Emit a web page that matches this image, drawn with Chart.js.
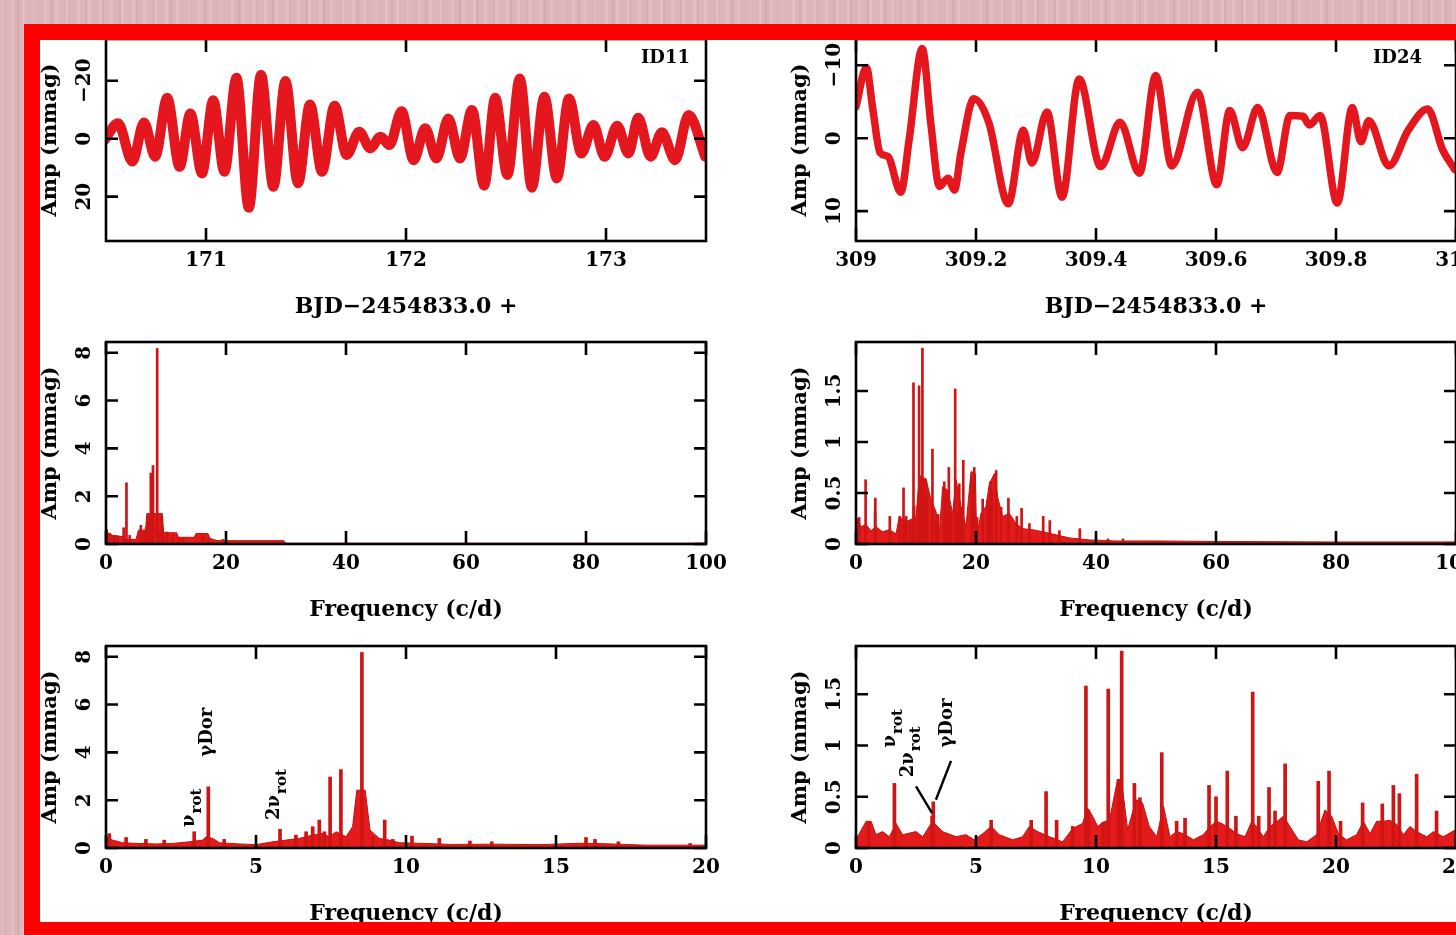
<!DOCTYPE html>
<html>
<head>
<meta charset="utf-8">
<script src="https://cdn.jsdelivr.net/npm/chart.js@4.4.1/dist/chart.umd.min.js"></script>
<style>
    html, body { margin: 0; padding: 0; width: 1456px; height: 935px; overflow: hidden; }
    body {
        position: relative;
        background-color: #ddb4b8;
        background-image:
            repeating-linear-gradient(90deg, rgba(255,255,255,0.14) 0 3px, rgba(255,255,255,0) 3px 11px),
            repeating-linear-gradient(90deg, rgba(140,70,80,0.08) 0 2px, rgba(0,0,0,0) 2px 17px);
    }
    #sheet { position: absolute; left: 24px; top: 24px; width: 1500px; height: 914px; background: #fff; }
    #frame { position: absolute; left: 24px; top: 24px; width: 1500px; height: 914px; box-sizing: border-box;
             border: 16px solid #ff0000; z-index: 5; }
    canvas { position: absolute; z-index: 2; }
</style>
</head>
<body>
<div id="sheet"></div>
<canvas id="lc11" width="720" height="293" style="left:16px;top:33px"></canvas>
<canvas id="lc24" width="720" height="293" style="left:766px;top:33px"></canvas>
<canvas id="wide11" width="720" height="293" style="left:16px;top:336px"></canvas>
<canvas id="wide24" width="720" height="293" style="left:766px;top:336px"></canvas>
<canvas id="zoom11" width="720" height="293" style="left:16px;top:640px"></canvas>
<canvas id="zoom24" width="720" height="293" style="left:766px;top:640px"></canvas>
<div id="frame"></div>
<script>
// Light curve ID11 (peaks and troughs)
const lc11Time = [170.493, 170.560, 170.632, 170.690, 170.746, 170.806, 170.868, 170.922, 170.980, 171.036,
    171.092, 171.152, 171.214, 171.275, 171.337, 171.397, 171.460, 171.520, 171.580, 171.643,
    171.703, 171.766, 171.821, 171.873, 171.917, 171.978, 172.038, 172.096, 172.152, 172.212,
    172.270, 172.330, 172.391, 172.446, 172.507, 172.569, 172.629, 172.692, 172.754, 172.815,
    172.877, 172.937, 172.993, 173.056, 173.112, 173.161, 173.223, 173.279, 173.346, 173.413, 173.496];
const lc11Amp = [0.5, -5.3, 7.9, -5.6, 6.2, -14.1, 9.7, -8.7, 12.0, -13.3,
    11.4, -21.0, 23.8, -22.0, 16.6, -19.9, 15.4, -11.8, 11.4, -11.4,
    5.6, -2.4, 3.3, -0.7, 2.2, -9.5, 7.4, -3.6, 6.8, -7.0,
    6.8, -9.9, 16.2, -14.1, 12.5, -20.8, 16.9, -14.5, 13.7, -13.9,
    5.1, -4.7, 6.2, -4.5, 5.1, -7.2, 6.2, -2.2, 7.4, -8.2, 6.2];

// Light curve ID24
const lc24Time = [309.000, 309.0172, 309.0280, 309.0401, 309.0530, 309.0746, 309.0889, 309.1104, 309.1247, 309.1391,
    309.1534, 309.1642, 309.1749, 309.1964, 309.2215, 309.2538, 309.2789, 309.2932, 309.3183, 309.3434,
    309.3720, 309.4079, 309.4401, 309.4724, 309.4996, 309.5262, 309.5692, 309.6014, 309.6229, 309.6444,
    309.6695, 309.7018, 309.7233, 309.7448, 309.7556, 309.7735, 309.8022, 309.8272, 309.8416, 309.8545,
    309.8882, 309.9204, 309.9527, 309.9778, 309.9978];
const lc24Amp = [-4.3, -9.7, -4.0, 2.0, 2.5, 7.4, 0.0, -12.3, -2.0, 6.6,
    5.5, 7.1, 2.0, -5.4, -2.1, 9.0, -1.1, 3.4, -3.6, 8.1,
    -8.1, 3.9, -2.2, 4.8, -8.6, 3.8, -6.3, 6.4, -3.8, 1.3,
    -4.2, 4.7, -3.1, -3.0, -1.8, -3.1, 8.9, -4.2, 0.5, -2.4,
    3.8, -1.1, -4.0, 1.6, 4.3];

// Amplitude spectrum ID11: single peaks
const id11PeakFreq = [0.11, 0.67, 1.33, 1.94, 2.94, 3.41, 3.94, 5.8, 6.33, 6.67, 6.89, 7.11, 7.28, 7.47, 7.83,
    8.53, 8.89, 9.29, 9.56, 10.2, 11.11, 12.13, 12.86, 16.0, 16.3, 17.08, 19.47];
const id11PeakAmp = [0.6, 0.44, 0.36, 0.33, 0.68, 2.56, 0.36, 0.78, 0.54, 0.68, 0.89, 1.17, 0.68, 2.97, 3.28,
    8.18, 0.47, 1.17, 0.36, 0.5, 0.4, 0.29, 0.26, 0.44, 0.36, 0.26, 0.19];
// ID11 noise envelope as seen in the 0-100 c/d panel
const id11WideFloorFreq = [0, 0.5, 1, 3, 3.3, 5, 5.4, 6.6, 6.8, 9.4, 9.6, 10.3, 11.8, 12.0, 14.7, 15.0, 17.0, 17.3, 18.5, 29.6, 30.0, 100];
const id11WideFloorAmp = [0.5, 0.45, 0.37, 0.3, 0.19, 0.19, 0.58, 0.58, 1.27, 1.27, 0.5, 0.47, 0.47, 0.28, 0.28, 0.44, 0.44, 0.24, 0.14, 0.14, 0.03, 0.03];
// ID11 noise envelope as seen in the 0-20 c/d panel
const id11ZoomFloorFreq = [0, 0.22, 0.56, 1.11, 1.67, 2.22, 2.78, 3.22, 3.33, 3.56, 3.78, 4.44, 5.0, 5.56, 6.0, 6.44,
    6.89, 7.22, 7.44, 7.67, 8.0, 8.22, 8.36, 8.64, 8.8, 9.11, 9.44, 9.78, 10.67, 11.5, 13.0, 14.5, 15.8, 16.6, 18.0, 19.5, 20.0];
const id11ZoomFloorAmp = [0.47, 0.33, 0.22, 0.19, 0.17, 0.19, 0.26, 0.33, 0.47, 0.4, 0.22, 0.17, 0.14, 0.26, 0.33, 0.4,
    0.54, 0.61, 0.47, 0.68, 0.47, 0.89, 2.42, 2.42, 0.75, 0.4, 0.33, 0.22, 0.19, 0.15, 0.16, 0.14, 0.2, 0.18, 0.12, 0.12, 0.12];

// Amplitude spectrum ID24: single peaks
const id24PeakFreq = [0.53, 1.6, 3.17, 3.22, 5.63, 7.3, 7.92, 8.36, 9.03, 9.58, 9.68, 10.3, 10.51, 10.94, 11.07,
    11.6, 11.83, 12.74, 13.36, 13.71, 14.71, 15.0, 15.47, 15.83, 16.53, 16.78, 17.21, 17.46, 17.88, 19.26,
    19.71, 20.19, 21.11, 21.93, 22.39, 22.64, 23.36, 24.19, 25.4, 26.8, 27.6, 28.9, 31.2, 32.3, 33.9,
    37.3, 40.0, 42.0, 44.5];
const id24PeakAmp = [0.26, 0.63, 0.31, 0.45, 0.27, 0.27, 0.55, 0.27, 0.21, 1.58, 0.37, 0.25, 1.55, 0.67, 1.92,
    0.63, 0.49, 0.93, 0.26, 0.29, 0.61, 0.5, 0.75, 0.31, 1.52, 0.31, 0.59, 0.36, 0.82, 0.65,
    0.75, 0.26, 0.44, 0.43, 0.61, 0.53, 0.72, 0.36, 0.45, 0.27, 0.35, 0.2, 0.27, 0.23, 0.13,
    0.15, 0.05, 0.05, 0.05];
// ID24 noise envelope as seen in the 0-100 c/d panel
const id24WideFloorFreq = [0, 0.83, 1.67, 2.5, 3.33, 4.44, 5.56, 6.67, 7.22, 8.33, 9.17, 10.0, 10.56, 11.67, 12.5, 13.33,
    13.89, 14.44, 15.28, 16.11, 16.67, 17.5, 18.33, 19.17, 19.89, 20.11, 20.83, 21.67, 22.22, 23.06, 23.61, 24.44,
    25.56, 26.67, 27.78, 29.44, 31.11, 33.33, 35.56, 38.89, 43.33, 50, 60, 80, 100];
const id24WideFloorAmp = [0.27, 0.17, 0.19, 0.13, 0.17, 0.12, 0.14, 0.10, 0.27, 0.22, 0.24, 0.27, 0.66, 0.64, 0.43, 0.32,
    0.1, 0.56, 0.53, 0.3, 0.63, 0.37, 0.17, 0.71, 0.69, 0.07, 0.3, 0.37, 0.59, 0.69, 0.46, 0.27,
    0.3, 0.2, 0.15, 0.14, 0.12, 0.09, 0.06, 0.04, 0.03, 0.03, 0.025, 0.02, 0.02];
// ID24 noise envelope as seen in the 0-25 c/d panel
const id24ZoomFloorFreq = [0, 0.42, 0.63, 0.83, 1.11, 1.39, 1.67, 1.94, 2.5, 2.78, 3.19, 3.61, 4.17, 4.58, 4.93, 5.28,
    5.63, 5.97, 6.53, 6.94, 7.22, 7.57, 8.06, 8.61, 9.03, 9.44, 9.65, 9.86, 10.07, 10.28, 10.56, 10.9,
    11.11, 11.32, 11.67, 11.94, 12.22, 12.53, 12.81, 13.08, 13.36, 13.64, 14.06, 14.47, 14.75, 15.03, 15.31,
    15.58, 15.86, 16.21, 16.49, 16.69, 16.97, 17.25, 17.6, 17.81, 18.08, 18.43, 18.78, 19.19, 19.54, 19.82,
    20.1, 20.44, 20.86, 21.14, 21.42, 21.69, 21.97, 22.25, 22.53, 22.81, 23.08, 23.36, 23.78, 24.06, 24.47, 25.0];
const id24ZoomFloorAmp = [0.08, 0.26, 0.26, 0.13, 0.16, 0.11, 0.24, 0.13, 0.16, 0.11, 0.26, 0.16, 0.11, 0.13, 0.08, 0.14,
    0.21, 0.13, 0.08, 0.11, 0.21, 0.16, 0.11, 0.06, 0.19, 0.24, 0.39, 0.31, 0.21, 0.25, 0.27, 0.67,
    0.57, 0.18, 0.47, 0.44, 0.21, 0.11, 0.41, 0.11, 0.16, 0.14, 0.08, 0.13, 0.21, 0.26, 0.23,
    0.19, 0.14, 0.11, 0.26, 0.21, 0.11, 0.21, 0.27, 0.31, 0.21, 0.08, 0.06, 0.13, 0.37, 0.31,
    0.14, 0.08, 0.13, 0.26, 0.14, 0.26, 0.26, 0.27, 0.23, 0.13, 0.21, 0.16, 0.11, 0.16, 0.11, 0.18];

// Tick values
const lc11TimeTicks = [171, 172, 173];
const lc11AmpTicks = [-20, 0, 20];
const lc24TimeTicks = [309, 309.2, 309.4, 309.6, 309.8, 310];
const lc24AmpTicks = [-10, 0, 10];
const wideFreqTicks = [0, 20, 40, 60, 80, 100];
const id11AmpTicks = [0, 2, 4, 6, 8];
const id24AmpTicks = [0, 0.5, 1, 1.5];
const id11ZoomFreqTicks = [0, 5, 10, 15, 20];
const id24ZoomFreqTicks = [0, 5, 10, 15, 20, 25];

const FONT = "'DejaVu Serif', 'Liberation Serif', serif";
const LC_RED = '#e3171d';
const SPIKE_RED = '#cf1414';
const FLOOR_RED = '#e41b1b';
const FLOOR_EDGE = '#c21010';

Chart.defaults.font.family = FONT;
Chart.defaults.font.weight = 'bold';
Chart.defaults.color = '#000';

const zip = (xs, ys) => xs.map((x, i) => ({ x, y: ys[i] }));
const fmt = (v) => (v < 0 ? '\u2212' : '') + String(Math.abs(v));
const setTicks = (arr) => (scale) => { scale.ticks = arr.map(v => ({ value: v })); };

// Box, inward ticks, rotated y labels and text notes
const framePlugin = {
    id: 'frame',
    afterDatasetsDraw(chart, args, o) {
        const { ctx, chartArea: a, scales: { x, y } } = chart;
        ctx.save();
        ctx.strokeStyle = '#000';
        ctx.lineWidth = 2.6;
        ctx.strokeRect(a.left, a.top, a.width, a.height);
        ctx.beginPath();
        x.ticks.forEach(t => {
            const px = x.getPixelForValue(t.value);
            ctx.moveTo(px, a.bottom); ctx.lineTo(px, a.bottom - 13);
            ctx.moveTo(px, a.top); ctx.lineTo(px, a.top + 13);
        });
        y.ticks.forEach(t => {
            const py = y.getPixelForValue(t.value);
            ctx.moveTo(a.left, py); ctx.lineTo(a.left + 12, py);
            ctx.moveTo(a.right, py); ctx.lineTo(a.right - 12, py);
        });
        ctx.stroke();

        ctx.fillStyle = '#000';
        ctx.font = `bold 20px ${FONT}`;
        ctx.textAlign = 'center';
        ctx.textBaseline = 'middle';
        y.ticks.forEach(t => {
            ctx.save();
            ctx.translate(a.left - 21, y.getPixelForValue(t.value));
            ctx.rotate(-Math.PI / 2);
            ctx.fillText(fmt(t.value), 0, 0);
            ctx.restore();
        });

        if (o.tag) {
            ctx.font = `bold 18px ${FONT}`;
            ctx.textAlign = 'right';
            ctx.fillText(o.tag, a.right - o.tagDx, a.top + 19);
        }

        (o.leaders || []).forEach(l => {
            ctx.beginPath();
            ctx.lineWidth = 2.4;
            ctx.moveTo(x.getPixelForValue(l[0]), y.getPixelForValue(l[1]));
            ctx.lineTo(x.getPixelForValue(l[2]), y.getPixelForValue(l[3]));
            ctx.stroke();
        });

        (o.notes || []).forEach(n => {
            ctx.save();
            ctx.translate(x.getPixelForValue(n.f), y.getPixelForValue(n.a));
            ctx.rotate(-Math.PI / 2);
            ctx.textAlign = 'left';
            ctx.textBaseline = 'middle';
            ctx.font = `bold 18px ${FONT}`;
            ctx.fillText(n.text, 0, 0);
            if (n.sub) {
                const w = ctx.measureText(n.text).width;
                ctx.font = `bold 15px ${FONT}`;
                ctx.fillText(n.sub, w + 1, 8);
            }
            ctx.restore();
        });
        ctx.restore();
    }
};

const lightCurve = (xs, ys, width) => ({
    data: zip(xs, ys), borderColor: LC_RED, borderWidth: width, pointRadius: 0,
    cubicInterpolationMode: 'monotone', borderCapStyle: 'round', borderJoinStyle: 'round', fill: false
});
const spikes = (xs, ys, thick) => ({
    type: 'bar', data: zip(xs, ys), backgroundColor: SPIKE_RED, borderWidth: 0, barThickness: thick, order: 1
});
const floor = (xs, ys) => ({
    type: 'line', data: zip(xs, ys), borderColor: FLOOR_EDGE, borderWidth: 1, backgroundColor: FLOOR_RED,
    fill: 'origin', pointRadius: 0, tension: 0, order: 2
});

function panel(id, cfg) {
    return new Chart(document.getElementById(id), {
        type: 'line',
        data: { datasets: cfg.datasets },
        plugins: [framePlugin],
        options: {
            responsive: false,
            animation: false,
            events: [],
            devicePixelRatio: 1,
            layout: { padding: { top: 6, right: 30, left: 0, bottom: 0 } },
            plugins: {
                legend: { display: false },
                tooltip: { enabled: false },
                frame: { tag: cfg.tag, tagDx: cfg.tagDx, notes: cfg.notes, leaders: cfg.leaders }
            },
            scales: {
                x: {
                    type: 'linear', min: cfg.xMin, max: cfg.xMax, offset: false,
                    grid: { display: false, drawTicks: false }, border: { display: false },
                    afterBuildTicks: setTicks(cfg.xTicks),
                    afterFit: (s) => { s.height = 85; s.paddingLeft = 0; s.paddingRight = 0; },
                    ticks: { autoSkip: false, maxRotation: 0, minRotation: 0, padding: 8, color: '#000',
                             font: { size: 20, weight: 'bold' }, callback: fmt },
                    title: { display: true, text: cfg.xTitle, color: '#000',
                             font: { size: 22, weight: 'bold' }, padding: { top: 0, bottom: 6 } }
                },
                y: {
                    type: 'linear', min: cfg.yMin, max: cfg.yMax, reverse: !!cfg.reverse,
                    grid: { display: false, drawTicks: false }, border: { display: false },
                    afterBuildTicks: setTicks(cfg.yTicks),
                    afterFit: (s) => { s.width = 90; s.paddingTop = 0; s.paddingBottom = 0; },
                    ticks: { display: false },
                    title: { display: true, text: 'Amp (mmag)', color: '#000',
                             font: { size: 21, weight: 'bold' }, padding: { top: 22, bottom: 0 } }
                }
            }
        }
    });
}

const BJD = 'BJD\u22122454833.0 +';
const FREQ = 'Frequency (c/d)';

panel('lc11', {
    datasets: [lightCurve(lc11Time, lc11Amp, 10)],
    xMin: 170.5, xMax: 173.5, xTicks: lc11TimeTicks, xTitle: BJD,
    yMin: -34.4, yMax: 35.3, reverse: true, yTicks: lc11AmpTicks,
    tag: 'ID11', tagDx: 16
});
panel('lc24', {
    datasets: [lightCurve(lc24Time, lc24Amp, 7.5)],
    xMin: 309, xMax: 310, xTicks: lc24TimeTicks, xTitle: BJD,
    yMin: -13.6, yMax: 14.1, reverse: true, yTicks: lc24AmpTicks,
    tag: 'ID24', tagDx: 34
});
panel('wide11', {
    datasets: [spikes(id11PeakFreq, id11PeakAmp, 2), floor(id11WideFloorFreq, id11WideFloorAmp)],
    xMin: 0, xMax: 100, xTicks: wideFreqTicks, xTitle: FREQ,
    yMin: 0, yMax: 8.45, yTicks: id11AmpTicks
});
panel('wide24', {
    datasets: [spikes(id24PeakFreq, id24PeakAmp, 2), floor(id24WideFloorFreq, id24WideFloorAmp)],
    xMin: 0, xMax: 100, xTicks: wideFreqTicks, xTitle: FREQ,
    yMin: 0, yMax: 1.98, yTicks: id24AmpTicks
});
panel('zoom11', {
    datasets: [spikes(id11PeakFreq, id11PeakAmp, 3), floor(id11ZoomFloorFreq, id11ZoomFloorAmp)],
    xMin: 0, xMax: 20, xTicks: id11ZoomFreqTicks, xTitle: FREQ,
    yMin: 0, yMax: 8.45, yTicks: id11AmpTicks,
    notes: [
        { f: 2.77, a: 0.88, text: '\u03bd', sub: 'rot' },
        { f: 3.37, a: 3.82, text: '\u03b3Dor' },
        { f: 5.6, a: 1.17, text: '2\u03bd', sub: 'rot' }
    ]
});
panel('zoom24', {
    datasets: [spikes(id24PeakFreq, id24PeakAmp, 3), floor(id24ZoomFloorFreq, id24ZoomFloorAmp)],
    xMin: 0, xMax: 25, xTicks: id24ZoomFreqTicks, xTitle: FREQ,
    yMin: 0, yMax: 1.97, yTicks: id24AmpTicks,
    notes: [
        { f: 1.42, a: 0.98, text: '\u03bd', sub: 'rot' },
        { f: 2.17, a: 0.69, text: '2\u03bd', sub: 'rot' },
        { f: 3.79, a: 0.98, text: '\u03b3Dor' }
    ],
    leaders: [[2.5, 0.6, 3.17, 0.34], [3.96, 0.85, 3.33, 0.47]]
});
</script>
</body>
</html>
